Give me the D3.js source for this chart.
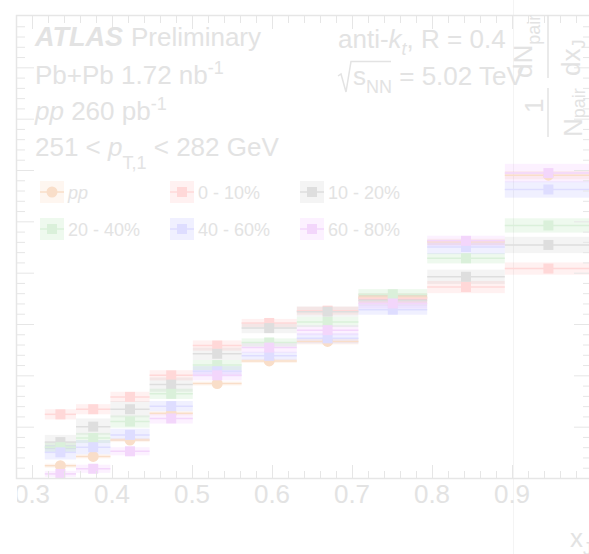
<!DOCTYPE html>
<html>
<head>
<meta charset="utf-8">
<script src="https://cdn.jsdelivr.net/npm/d3@7"></script>
<style>
  body { margin: 0; background: #fff; }
  svg { display: block; font-family: "Liberation Sans", Arial, Helvetica, sans-serif; }
</style>
</head>
<body>
<svg id="chart" width="589" height="554"></svg>
<script>
// x_J bins (log spaced) and the distributions
var binEdges = [0.316, 0.355, 0.398, 0.447, 0.501, 0.562, 0.631, 0.708, 0.794, 0.891, 1.0];
var ppValues      = [0.12, 0.21, 0.37, 0.63, 0.92, 1.14, 1.33, 1.76, 2.30, 2.95];
var cent0to10     = [0.62, 0.67, 0.79, 1.00, 1.29, 1.51, 1.63, 1.75, 1.86, 2.04];
var cent10to20    = [0.35, 0.50, 0.67, 0.91, 1.21, 1.46, 1.62, 1.73, 1.96, 2.27];
var cent20to40    = [0.30, 0.39, 0.55, 0.82, 1.10, 1.32, 1.52, 1.79, 2.14, 2.46];
var cent40to60    = [0.25, 0.30, 0.42, 0.70, 1.04, 1.19, 1.36, 1.64, 2.25, 2.81];
var cent60to80    = [0.04, 0.09, 0.26, 0.58, 1.00, 1.27, 1.44, 1.70, 2.31, 2.97];
var ppSys         = [0.02, 0.02, 0.02, 0.02, 0.02, 0.02, 0.03, 0.03, 0.03, 0.04];
var sys0to10      = [0.05, 0.05, 0.05, 0.05, 0.05, 0.04, 0.04, 0.05, 0.06, 0.06];
var sys10to20     = [0.07, 0.08, 0.08, 0.07, 0.06, 0.05, 0.05, 0.05, 0.07, 0.08];
var sys20to40     = [0.05, 0.05, 0.06, 0.05, 0.05, 0.04, 0.05, 0.05, 0.05, 0.07];
var sys40to60     = [0.07, 0.07, 0.06, 0.05, 0.05, 0.04, 0.05, 0.05, 0.07, 0.08];
var sys60to80     = [0.03, 0.04, 0.04, 0.05, 0.05, 0.05, 0.05, 0.05, 0.05, 0.09];
var seriesLabels  = ["pp", "0 - 10%", "10 - 20%", "20 - 40%", "40 - 60%", "60 - 80%"];
var xTickValues   = [0.3, 0.4, 0.5, 0.6, 0.7, 0.8, 0.9];
var xTickLabels   = ["0.3", "0.4", "0.5", "0.6", "0.7", "0.8", "0.9"];

var TEXT = "#e3e3e3", AXIS = "#e6e6e6";

var series = [
  {label: seriesLabels[0], values: ppValues,   sys: ppSys,     marker: "#f9dec9", box: "rgba(240,130,40,0.07)", shape: "circle"},
  {label: seriesLabels[1], values: cent0to10,  sys: sys0to10,  marker: "#ffd8d8", box: "rgba(255,0,0,0.055)",   shape: "square"},
  {label: seriesLabels[2], values: cent10to20, sys: sys10to20, marker: "#dedede", box: "rgba(0,0,0,0.045)",     shape: "square"},
  {label: seriesLabels[3], values: cent20to40, sys: sys20to40, marker: "#daf0da", box: "rgba(0,160,0,0.065)",   shape: "square"},
  {label: seriesLabels[4], values: cent40to60, sys: sys40to60, marker: "#deddff", box: "rgba(0,0,255,0.06)",    shape: "square"},
  {label: seriesLabels[5], values: cent60to80, sys: sys60to80, marker: "#f3d6fb", box: "rgba(200,0,255,0.055)", shape: "square"}
];

var svg = d3.select("#chart");
var x = d3.scaleLinear().domain([0.28, 1.0]).range([16, 592]);
var y = d3.scaleLinear().domain([0, 4.5]).range([478, 16]);

svg.append("defs").append("clipPath").attr("id", "plotclip")
  .append("rect").attr("x", x(0.28)).attr("y", y(4.5))
  .attr("width", x(1.0) - x(0.28)).attr("height", y(0) - y(4.5));

// seam line
svg.append("line").attr("x1", 513.5).attr("x2", 513.5).attr("y1", 0).attr("y2", 554)
  .attr("stroke", "#f4f4f4").attr("stroke-width", 1);

var bins = d3.range(binEdges.length - 1).map(function(i) {
  return {lo: binEdges[i], hi: binEdges[i + 1], mid: (binEdges[i] + binEdges[i + 1]) / 2};
});

var plot = svg.append("g").attr("clip-path", "url(#plotclip)");

// systematic boxes
series.forEach(function(s) {
  plot.append("g").selectAll("rect").data(s.values).enter().append("rect")
    .attr("x", function(d, i) { return x(bins[i].lo); })
    .attr("width", function(d, i) { return x(bins[i].hi) - x(bins[i].lo); })
    .attr("y", function(d, i) { return y(d + s.sys[i]); })
    .attr("height", function(d, i) { return y(d - s.sys[i]) - y(d + s.sys[i]); })
    .attr("fill", s.box);
});

// bin-width lines and markers
series.forEach(function(s) {
  var g = plot.append("g");
  g.selectAll("line").data(s.values).enter().append("line")
    .attr("x1", function(d, i) { return x(bins[i].lo); })
    .attr("x2", function(d, i) { return x(bins[i].hi); })
    .attr("y1", function(d) { return y(d); })
    .attr("y2", function(d) { return y(d); })
    .attr("stroke", s.marker).attr("stroke-width", 1.5);
  if (s.shape == "circle") {
    g.selectAll("circle").data(s.values).enter().append("circle")
      .attr("cx", function(d, i) { return x(bins[i].mid); })
      .attr("cy", function(d) { return y(d); })
      .attr("r", 5.5).attr("fill", s.marker);
  } else {
    g.selectAll("rect").data(s.values).enter().append("rect")
      .attr("x", function(d, i) { return x(bins[i].mid) - 5; })
      .attr("y", function(d) { return y(d) - 5; })
      .attr("width", 10).attr("height", 10).attr("fill", s.marker);
  }
});

// axes: ticks only, frame drawn separately
function ticks(axis, transform, values, size) {
  var g = svg.append("g").attr("transform", transform)
    .call(axis.tickValues(values).tickSize(size).tickFormat(""));
  g.select(".domain").remove();
  g.selectAll("line").attr("stroke", AXIS);
}
var xMinor = d3.range(0.30, 1.001, 0.02).filter(function(v) { return Math.abs(v * 10 - Math.round(v * 10)) > 1e-6; });
var yMinor = d3.range(0.1, 4.5, 0.1).filter(function(v) { return Math.abs(v * 2 - Math.round(v * 2)) > 1e-6; });
var yMajor = d3.range(0.5, 4.5, 0.5);
ticks(d3.axisTop(x), "translate(0," + y(0) + ")", xMinor, 7);
ticks(d3.axisTop(x), "translate(0," + y(0) + ")", xTickValues, 13);
ticks(d3.axisBottom(x), "translate(0," + y(4.5) + ")", xMinor, 7);
ticks(d3.axisBottom(x), "translate(0," + y(4.5) + ")", xTickValues, 13);
ticks(d3.axisRight(y), "translate(" + x(0.28) + ",0)", yMinor, 9);
ticks(d3.axisRight(y), "translate(" + x(0.28) + ",0)", yMajor, 18);
ticks(d3.axisLeft(y), "translate(" + x(1.0) + ",0)", yMinor, 9);
ticks(d3.axisLeft(y), "translate(" + x(1.0) + ",0)", yMajor, 18);

svg.append("rect").attr("x", x(0.28) + 0.5).attr("y", y(4.5) - 0.5)
  .attr("width", x(1.0) - x(0.28)).attr("height", y(0) - y(4.5) + 1)
  .attr("fill", "none").attr("stroke", AXIS).attr("stroke-width", 1.5);

// x tick labels (left one is cut at the frame)
svg.append("defs").append("clipPath").attr("id", "labelclip")
  .append("rect").attr("x", 17).attr("y", 478).attr("width", 580).attr("height", 76);
svg.append("g").attr("clip-path", "url(#labelclip)")
  .selectAll("text").data(xTickValues).enter().append("text")
  .attr("x", function(d) { return x(d); }).attr("y", 503)
  .attr("text-anchor", "middle").attr("font-size", 26).attr("fill", TEXT)
  .text(function(d, i) { return xTickLabels[i]; });

// x axis title
var xt = svg.append("text").attr("x", 570).attr("y", 547).attr("font-size", 26).attr("fill", TEXT);
xt.append("tspan").text("x");
xt.append("tspan").attr("font-size", 18).attr("dy", 8).text("J");

// y axis title (rotated)
var yt = svg.append("g").attr("transform", "rotate(-90)").attr("fill", TEXT);
yt.append("text").attr("x", -113).attr("y", 543).attr("font-size", 26).text("1");
var t = yt.append("text").attr("x", -137).attr("y", 582).attr("font-size", 26);
t.append("tspan").text("N");
t.append("tspan").attr("font-size", 18).attr("dy", 3).text("pair");
t = yt.append("text").attr("x", -78).attr("y", 532).attr("font-size", 26);
t.append("tspan").text("dN");
t.append("tspan").attr("font-size", 18).attr("dy", 8).text("pair");
t = yt.append("text").attr("x", -76).attr("y", 580).attr("font-size", 26);
t.append("tspan").text("dx");
t.append("tspan").attr("font-size", 18).attr("dy", 5).text("J");
svg.append("line").attr("x1", 548).attr("x2", 548).attr("y1", 88).attr("y2", 137).attr("stroke", TEXT).attr("stroke-width", 1.5);
svg.append("line").attr("x1", 548).attr("x2", 548).attr("y1", 15).attr("y2", 78).attr("stroke", TEXT).attr("stroke-width", 1.5);

// labels, top left
var lbl = svg.append("g").attr("fill", TEXT).attr("font-size", 26);
t = lbl.append("text").attr("x", 35).attr("y", 46);
t.append("tspan").attr("font-weight", "bold").attr("font-style", "italic").attr("font-size", 27).text("ATLAS");
t.append("tspan").attr("dx", 8).text("Preliminary");
t = lbl.append("text").attr("x", 35).attr("y", 84);
t.append("tspan").text("Pb+Pb 1.72 nb");
t.append("tspan").attr("font-size", 18).attr("dy", -10).text("-1");
t = lbl.append("text").attr("x", 35).attr("y", 120);
t.append("tspan").attr("font-style", "italic").text("pp");
t.append("tspan").text(" 260 pb");
t.append("tspan").attr("font-size", 18).attr("dy", -10).text("-1");
t = lbl.append("text").attr("x", 35).attr("y", 156);
t.append("tspan").text("251 < ");
t.append("tspan").attr("font-style", "italic").text("p");
t.append("tspan").attr("font-size", 18).attr("dy", 13).text("T,1");
t.append("tspan").attr("dy", -13).text(" < 282 GeV");

// labels, top right
t = lbl.append("text").attr("x", 338).attr("y", 48);
t.append("tspan").text("anti-");
t.append("tspan").attr("font-style", "italic").text("k");
t.append("tspan").attr("font-style", "italic").attr("font-size", 18).attr("dy", 7).text("t");
t.append("tspan").attr("dy", -7).text(", R = 0.4");
svg.append("path").attr("d", "M338,76 L341,74 L346,92 L351,61.5 L391,61.5")
  .attr("fill", "none").attr("stroke", TEXT).attr("stroke-width", 1.5);
t = lbl.append("text").attr("x", 353).attr("y", 85);
t.append("tspan").text("s");
t.append("tspan").attr("font-size", 18).attr("dy", 8).text("NN");
t.append("tspan").attr("dy", -8).text(" = 5.02 TeV");

// legend
var leg = svg.append("g").selectAll("g").data(series).enter().append("g")
  .attr("transform", function(d, i) { return "translate(" + (52 + 130 * (i % 3)) + "," + (192 + 37 * Math.floor(i / 3)) + ")"; });
leg.append("rect").attr("x", -12).attr("y", -11).attr("width", 24).attr("height", 22)
  .attr("fill", function(d) { return d.box; });
leg.append("line").attr("x1", -12).attr("x2", 12)
  .attr("stroke", function(d) { return d.marker; }).attr("stroke-width", 1.5);
leg.each(function(d) {
  var g = d3.select(this);
  if (d.shape == "circle") g.append("circle").attr("r", 5.5).attr("fill", d.marker);
  else g.append("rect").attr("x", -5).attr("y", -5).attr("width", 10).attr("height", 10).attr("fill", d.marker);
});
leg.append("text").attr("x", 16).attr("y", 6.5).attr("font-size", 18).attr("fill", TEXT)
  .attr("font-style", function(d, i) { return i == 0 ? "italic" : null; })
  .text(function(d) { return d.label; });
</script>
</body>
</html>
